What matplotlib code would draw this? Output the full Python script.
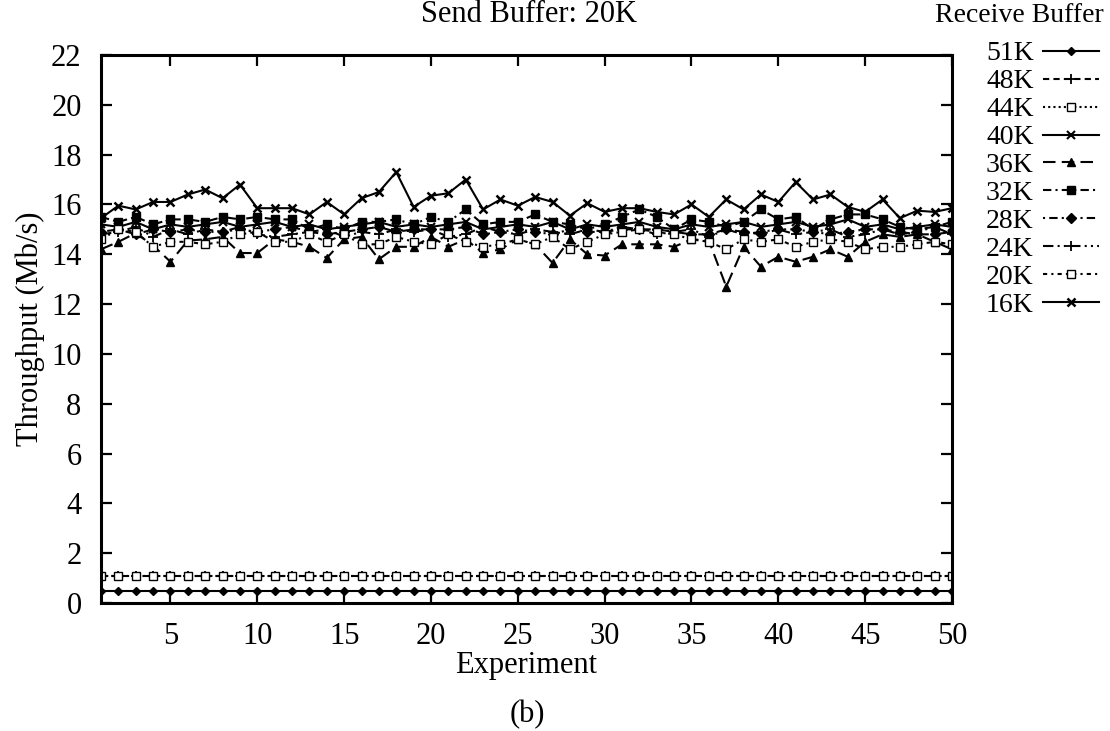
import matplotlib
matplotlib.use("Agg")
import matplotlib.pyplot as plt
import numpy as np

plt.rcParams['font.family'] = ['Liberation Serif', 'DejaVu Serif']

experiments = list(range(1, 51))
labels = ["51K", "48K", "44K", "40K", "36K", "32K", "28K", "24K", "20K", "16K"]

s51 = [0.5, 0.5, 0.5, 0.5, 0.5, 0.5, 0.5, 0.5, 0.5, 0.5,
       0.5, 0.5, 0.5, 0.5, 0.5, 0.5, 0.5, 0.5, 0.5, 0.5,
       0.5, 0.5, 0.5, 0.5, 0.5, 0.5, 0.5, 0.5, 0.5, 0.5,
       0.5, 0.5, 0.5, 0.5, 0.5, 0.5, 0.5, 0.5, 0.5, 0.5,
       0.5, 0.5, 0.5, 0.5, 0.5, 0.5, 0.5, 0.5, 0.5, 0.5]
s48 = [1.1, 1.1, 1.1, 1.1, 1.1, 1.1, 1.1, 1.1, 1.1, 1.1,
       1.1, 1.1, 1.1, 1.1, 1.1, 1.1, 1.1, 1.1, 1.1, 1.1,
       1.1, 1.1, 1.1, 1.1, 1.1, 1.1, 1.1, 1.1, 1.1, 1.1,
       1.1, 1.1, 1.1, 1.1, 1.1, 1.1, 1.1, 1.1, 1.1, 1.1,
       1.1, 1.1, 1.1, 1.1, 1.1, 1.1, 1.1, 1.1, 1.1, 1.1]
s44 = [1.1, 1.1, 1.1, 1.1, 1.1, 1.1, 1.1, 1.1, 1.1, 1.1,
       1.1, 1.1, 1.1, 1.1, 1.1, 1.1, 1.1, 1.1, 1.1, 1.1,
       1.1, 1.1, 1.1, 1.1, 1.1, 1.1, 1.1, 1.1, 1.1, 1.1,
       1.1, 1.1, 1.1, 1.1, 1.1, 1.1, 1.1, 1.1, 1.1, 1.1,
       1.1, 1.1, 1.1, 1.1, 1.1, 1.1, 1.1, 1.1, 1.1, 1.1]
s40 = [15.2, 15.1, 15.3, 15.0, 15.2, 15.1, 15.2, 15.3, 15.1, 15.2,
       15.3, 15.1, 15.2, 15.0, 15.1, 15.2, 15.3, 15.1, 15.2, 15.1,
       15.2, 15.3, 15.0, 15.1, 15.2, 15.1, 15.3, 15.0, 15.2, 15.1,
       15.2, 15.3, 15.1, 15.0, 15.2, 15.1, 15.2, 15.3, 15.1, 15.2,
       15.3, 15.1, 15.2, 15.4, 15.1, 15.2, 15.0, 15.1, 15.2, 15.1]
s36 = [14.2, 14.5, 14.85, 14.35, 13.7, 14.55, 14.6, 14.7, 14.05, 14.05,
       14.6, 14.5, 14.3, 13.85, 14.6, 14.7, 13.8, 14.3, 14.3, 14.7,
       14.3, 14.6, 14.05, 14.2, 14.6, 14.4, 13.65, 14.6, 14.0, 13.95,
       14.4, 14.4, 14.4, 14.3, 14.6, 14.55, 12.7, 14.3, 13.5, 13.9,
       13.7, 13.9, 14.2, 13.9, 14.5, 14.8, 14.7, 14.8, 14.5, 14.2]
s32 = [15.5, 15.3, 15.5, 15.2, 15.4, 15.4, 15.3, 15.5, 15.4, 15.5,
       15.4, 15.4, 15.0, 15.2, 15.0, 15.3, 15.3, 15.4, 15.2, 15.5,
       15.3, 15.8, 15.2, 15.3, 15.3, 15.6, 15.3, 15.2, 15.0, 15.2,
       15.5, 15.8, 15.5, 15.0, 15.4, 15.3, 15.1, 15.3, 15.8, 15.4,
       15.5, 15.0, 15.4, 15.6, 15.6, 15.4, 15.1, 15.0, 15.1, 15.3]
s28 = [14.9, 15.0, 14.8, 15.0, 14.9, 15.0, 14.9, 14.9, 15.0, 14.9,
       15.0, 15.1, 14.9, 14.8, 14.9, 15.0, 15.1, 14.9, 15.0, 15.0,
       15.0, 15.1, 14.8, 14.9, 15.0, 14.9, 14.8, 15.0, 14.9, 14.9,
       15.0, 15.0, 15.0, 14.9, 14.8, 14.8, 15.0, 14.9, 14.8, 15.0,
       15.0, 14.9, 14.8, 14.9, 15.0, 15.0, 14.9, 14.8, 14.8, 14.9]
s24 = [14.8, 14.9, 15.1, 14.7, 15.0, 14.8, 15.0, 14.9, 15.1, 14.8,
       14.7, 14.8, 14.9, 15.0, 14.7, 14.9, 14.8, 15.0, 14.9, 15.0,
       14.7, 14.8, 15.1, 14.9, 14.8, 15.0, 14.9, 14.8, 15.0, 14.9,
       15.1, 15.0, 14.8, 14.9, 15.0, 14.7, 15.0, 14.8, 14.9, 15.0,
       14.8, 14.9, 15.0, 14.7, 14.8, 15.0, 14.8, 14.9, 15.1, 14.8]
s20 = [14.6, 15.0, 14.9, 14.3, 14.5, 14.5, 14.4, 14.5, 14.8, 14.9,
       14.5, 14.5, 14.8, 14.5, 14.8, 14.4, 14.4, 14.7, 14.5, 14.4,
       14.8, 14.5, 14.3, 14.4, 14.6, 14.4, 14.7, 14.2, 14.5, 14.8,
       14.9, 15.0, 14.9, 14.8, 14.6, 14.5, 14.2, 14.6, 14.5, 14.6,
       14.3, 14.5, 14.6, 14.5, 14.2, 14.3, 14.3, 14.4, 14.5, 14.4]
s16 = [15.45, 15.95, 15.8, 16.1, 16.1, 16.4, 16.6, 16.25, 16.8, 15.85,
       15.85, 15.85, 15.6, 16.1, 15.6, 16.25, 16.5, 17.3, 15.9, 16.35,
       16.45, 17.0, 15.8, 16.2, 15.95, 16.3, 16.1, 15.55, 16.05, 15.7,
       15.85, 15.85, 15.7, 15.6, 16.0, 15.5, 16.2, 15.8, 16.4, 16.1,
       16.9, 16.2, 16.4, 15.9, 15.7, 16.2, 15.45, 15.75, 15.7, 15.85]

series = [s51, s48, s44, s40, s36, s32, s28, s24, s20, s16]
styles = [
    dict(ls='-', marker='D', ms=4, mfc='black'),
    dict(ls=(0, (3, 2)), marker='+', ms=7, mew=1.3),
    dict(ls=(0, (1, 1.5)), marker='s', ms=6, mfc='white'),
    dict(ls='-', marker='x', ms=6, mew=1.5),
    dict(ls=(0, (6, 3)), marker='^', ms=6, mfc='black'),
    dict(ls=(0, (4, 2, 1, 2)), marker='s', ms=6, mfc='black'),
    dict(ls=(0, (1, 2, 4, 2)), marker='D', ms=5, mfc='black'),
    dict(ls=(0, (5, 2, 1, 2, 1, 2)), marker='+', ms=7, mew=1.3),
    dict(ls=(0, (2, 2, 1, 2)), marker='s', ms=6, mfc='white'),
    dict(ls='-', marker='x', ms=6, mew=1.8),
]

W, H = 1110, 731
fig = plt.figure(figsize=(W / 100, H / 100), dpi=100)
ax_l, ax_r, ax_t, ax_b = 101, 952, 55, 603
ax = fig.add_axes([ax_l / W, 1 - ax_b / H, (ax_r - ax_l) / W, (ax_b - ax_t) / H])

for lab, ys, st in zip(labels, series, styles):
    ax.plot(experiments, ys, color='black', lw=1.5, label=lab, **st)

ax.set_xlim(1, 50)
ax.set_ylim(0, 22)
ax.set_xticks([5, 10, 15, 20, 25, 30, 35, 40, 45, 50])
ax.set_yticks(np.arange(0, 23, 2))
ax.tick_params(direction='in', length=8, width=1.6, labelsize=22,
               top=True, right=True)
ax.tick_params(axis='y', pad=14)
ax.tick_params(axis='x', pad=14)
for sp in ax.spines.values():
    sp.set_linewidth(2.2)
ax.set_xlabel("Experiment", fontsize=22, labelpad=0)
ax.set_ylabel("Throughput (Mb/s)", fontsize=22, labelpad=4)
fig.text(529 / W, 1 - 15 / H, "Send Buffer: 20K", fontsize=22,
         ha='center', va='center')
fig.text(527 / W, 1 - 715 / H, "(b)", fontsize=22, ha='center', va='center')
fig.text(1104 / W, 1 - 15 / H, "Receive Buffer", fontsize=20,
         ha='right', va='center')

leg = fig.legend(loc='upper right', bbox_to_anchor=(1099 / W, 1 - 41 / H),
                 markerfirst=False, frameon=False,
                 fontsize=20, handlelength=2.0,
                 labelspacing=0.09, borderpad=0.0, borderaxespad=0.0,
                 handletextpad=0.35)

fig.savefig("out.png", dpi=100)
